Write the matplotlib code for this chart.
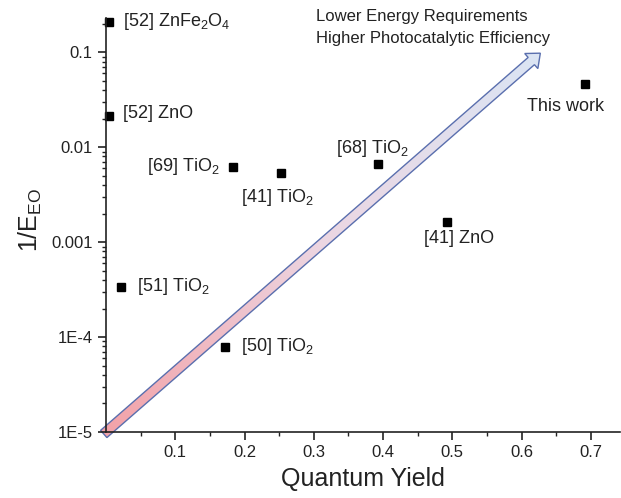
import numpy as np
import matplotlib
matplotlib.use('Agg')
import matplotlib.pyplot as plt
from matplotlib.patches import Polygon
from matplotlib.colors import LinearSegmentedColormap
from matplotlib.ticker import FixedLocator, LogLocator, NullFormatter

plt.rcParams['font.family'] = ['Liberation Sans', 'DejaVu Sans']
plt.rcParams['mathtext.fontset'] = 'custom'
plt.rcParams['mathtext.rm'] = 'Liberation Sans'
plt.rcParams['mathtext.it'] = 'Liberation Sans:italic'

# data
labels = ['[52] ZnFe$_2$O$_4$', '[52] ZnO', '[69] TiO$_2$', '[41] TiO$_2$',
          '[68] TiO$_2$', '[41] ZnO', 'This work', '[51] TiO$_2$', '[50] TiO$_2$']
quantum_yield = [0.005, 0.005, 0.183, 0.252, 0.392, 0.492, 0.691, 0.022, 0.172]
inv_eeo = [0.21, 0.0216, 0.0062, 0.0053, 0.0067, 0.00163, 0.0465, 3.4e-4, 7.9e-5]

x_ticks = [0.1, 0.2, 0.3, 0.4, 0.5, 0.6, 0.7]
y_ticks = [1e-5, 1e-4, 1e-3, 1e-2, 1e-1]
y_ticklabels = ['1E-5', '1E-4', '0.001', '0.01', '0.1']

# label offsets in pixels (dx, dy, ha)
offsets = [(14, 0, 'left'), (14, 2, 'left'), (-13, 0, 'right'), (-40, -24, 'left'),
           (-42, 15, 'left'), (-23, -16, 'left'), (-58, -23, 'left'),
           (16, 0, 'left'), (16, 0, 'left')]

arrow_start = (0.0, 1e-5)
arrow_end = (0.627, 0.098)

W, H = 621, 498
fig = plt.figure(figsize=(W / 100, H / 100), dpi=100)
ax = fig.add_axes([106 / W, 66 / H, 514 / W, 414 / H], zorder=2)
ax.patch.set_visible(False)

ax.set_yscale('log')
ax.set_xlim(0, 0.742)
ax.set_ylim(1e-5, 0.23)

for s in ['top', 'right']:
    ax.spines[s].set_visible(False)
for s in ['left', 'bottom']:
    ax.spines[s].set_linewidth(1.2)
    ax.spines[s].set_color('#222222')

ax.set_xticks(x_ticks)
ax.set_xticklabels(['%.1f' % v for v in x_ticks])
ax.xaxis.set_minor_locator(FixedLocator(np.arange(0.05, 0.75, 0.1)))
ax.set_yticks(y_ticks)
ax.set_yticklabels(y_ticklabels)
ax.yaxis.set_minor_locator(LogLocator(base=10, subs=np.arange(2, 10), numticks=20))
ax.yaxis.set_minor_formatter(NullFormatter())
ax.tick_params(which='major', direction='out', length=6, width=1.2, labelsize=12,
               color='#222222', labelcolor='#222222')
ax.tick_params(which='minor', direction='out', length=3, width=1.0, color='#222222')

ax.set_xlabel('Quantum Yield', fontsize=18, color='#222222')
ax.xaxis.set_label_coords(257 / 514, -35 / 414)
ax.set_ylabel(r'1/E$_{\mathrm{EO}}$', fontsize=18, color='#222222')
ax.yaxis.set_label_coords(-62 / 514, (432 - 220) / 414)

ax.plot(quantum_yield, inv_eeo, 's', color='black', markersize=6, clip_on=False)
for xv, yv, lab, (dx, dy, ha) in zip(quantum_yield, inv_eeo, labels, offsets):
    ax.annotate(lab, (xv, yv), xytext=(dx, dy), textcoords='offset pixels',
                ha=ha, va='center', fontsize=13, color='#222222')

fig.text(316 / W, 1 - 17 / H, 'Lower Energy Requirements', fontsize=12,
         va='center', ha='left', color='#222222')
fig.text(316 / W, 1 - 38 / H, 'Higher Photocatalytic Efficiency', fontsize=12,
         va='center', ha='left', color='#222222')

# gradient arrow drawn in pixel space behind the main axes
ov = fig.add_axes([0, 0, 1, 1], zorder=1)
ov.axis('off')
p0 = ax.transData.transform(arrow_start)
p1 = ax.transData.transform(arrow_end)
vec = p1 - p0
L = np.hypot(*vec)
u = vec / L
n = np.array([-u[1], u[0]])
w, hw, hl = 4.8, 10.0, 12.0
tail = p0 - u * 3
neck = p1 - u * hl
pts = [tail + n * w, neck + n * w, neck + n * hw, p1,
       neck - n * hw, neck - n * w, tail - n * w]
cmap = LinearSegmentedColormap.from_list('arr', ['#f3a2a8', '#ecd6e2', '#dbe5f4'])
xs = np.linspace(0, W, W)
ys = np.linspace(0, H, H)
X, Y = np.meshgrid(xs, ys)
T = ((X - tail[0]) * u[0] + (Y - tail[1]) * u[1]) / (L + 3)
im = ov.imshow(T, extent=[0, W, 0, H], origin='lower', cmap=cmap, vmin=0, vmax=1,
               aspect='auto', interpolation='bilinear')
poly = Polygon(pts, closed=True, facecolor='none', edgecolor='#5a6fae', linewidth=1.0)
ov.add_patch(poly)
im.set_clip_path(poly)
ov.set_xlim(0, W)
ov.set_ylim(0, H)

fig.savefig('out.png', dpi=100)
